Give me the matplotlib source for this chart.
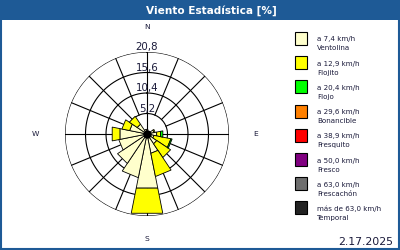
import numpy as np
import matplotlib.pyplot as plt
from matplotlib.patches import Rectangle

W, H = 400, 250

# frecuencia (%) por rumbo y clase de velocidad
dirs = ['N', 'NNE', 'NE', 'ENE', 'E', 'ESE', 'SE', 'SSE',
        'S', 'SSW', 'SW', 'WSW', 'W', 'WNW', 'NW', 'NNW']
ventolina  = [1.2, 0.8, 0.8, 1.8, 2.5, 1.8, 3.0, 5.0, 14.0, 11.3, 9.0, 7.3, 7.0, 4.5, 3.0, 1.2]
flojito    = [0.0, 0.0, 0.0, 0.3, 1.0, 4.4, 4.2, 6.0, 6.5, 0.0, 0.0, 0.0, 2.0, 2.0, 2.4, 0.0]
flojo      = [0.0, 0.0, 0.0, 0.0, 0.6, 0.3, 0.0, 0.0, 0.0, 0.0, 0.0, 0.0, 0.0, 0.0, 0.0, 0.0]
bonancible = [0.0] * 16
fresquito  = [0.0] * 16
fresco     = [0.0] * 16
frescachon = [0.0] * 16
temporal   = [0.0] * 16
series = [ventolina, flojito, flojo, bonancible, fresquito, fresco, frescachon, temporal]

speeds = ['a 7,4 km/h', 'a 12,9 km/h', 'a 20,4 km/h', 'a 29,6 km/h',
          'a 38,9 km/h', 'a 50,0 km/h', 'a 63,0 km/h', 'más de 63,0 km/h']
names = ['Ventolina', 'Flojito', 'Flojo', 'Bonancible',
         'Fresquito', 'Fresco', 'Frescachón', 'Temporal']
colors = ['#ffffcc', '#ffff00', '#00ff00', '#ff8000',
          '#ff0000', '#800080', '#6e6e6e', '#222222']

rings = [5.2, 10.4, 15.6, 20.8]
ring_labels = ['5,2', '10,4', '15,6', '20,8']
compass = ['N', 'E', 'S', 'W']

blue = '#1e5a96'
txt = '#1a1a3a'

fig = plt.figure(figsize=(W / 100, H / 100), dpi=100)
fig.patch.set_facecolor('white')

# marco y banda del titulo
fig.add_artist(Rectangle((0, 1 - 20 / H), 1, 20 / H, transform=fig.transFigure,
                         color=blue, lw=0))
fig.add_artist(Rectangle((0.5 / W, 1 / H), 1 - 1.5 / W, 1 - 1 / H,
                         transform=fig.transFigure, fill=False, ec=blue, lw=1.5))
fig.text(211 / W, 1 - 10.5 / H, 'Viento Estadística [%]', color='white',
         fontsize=7.6, fontweight='bold', ha='center', va='center')

# rosa de vientos
cx, cy, R = 147, 134, 82
ax = fig.add_axes([(cx - R) / W, (H - cy - R) / H, 2 * R / W, 2 * R / H],
                  projection='polar')
ax.set_theta_zero_location('N')
ax.set_theta_direction(-1)
ax.set_ylim(0, rings[-1])
ax.set_axis_off()

n = len(dirs)
theta = np.arange(n) * 2 * np.pi / n
width = 2 * np.pi / n

t = np.linspace(0, 2 * np.pi, 361)
for r in rings:
    ax.plot(t, np.full_like(t, r), color='black', lw=0.8, zorder=1)
for i, th in enumerate(theta):
    r0 = 0 if i % 4 == 0 else rings[0]
    ax.plot([th, th], [r0, rings[-1]], color='black', lw=0.8, zorder=1)

bottom = np.zeros(n)
for vals, col in zip(series, colors):
    vals = np.asarray(vals)
    for th, b, v in zip(theta, bottom, vals):
        if v <= 0:
            continue
        a0, a1 = th - width / 2, th + width / 2
        ax.fill([a0, a0, a1, a1], [b, b + v, b + v, b], facecolor=col,
                edgecolor='black', lw=0.6, zorder=2)
    bottom = bottom + vals
ax.plot([0], [0], 'o', color='black', ms=5, zorder=3)

for r, lab in zip(rings, ring_labels):
    ax.annotate(lab, (0, r), xytext=(0, 1.2), textcoords='offset points',
                ha='center', va='baseline', fontsize=7.4, color=txt, zorder=4)

for k, lab in enumerate(compass):
    rr = [27.1, 27.6, 26.6, 28.4][k]
    ax.text(k * np.pi / 2, rr, lab, ha='center', va='center', fontsize=5.4,
            color=txt, clip_on=False)

# leyenda
for i, (sp, nm, col) in enumerate(zip(speeds, names, colors)):
    top = 32 + i * 24.2
    fig.add_artist(Rectangle((295 / W, 1 - (top + 13) / H), 12 / W, 13 / H,
                             transform=fig.transFigure, facecolor=col,
                             edgecolor='black', lw=0.8))
    fig.text(317 / W, 1 - (top + 9.5) / H, sp, fontsize=5.1, color=txt,
             va='baseline')
    fig.text(317 / W, 1 - (top + 18.5) / H, nm, fontsize=5.1, color=txt,
             va='baseline')

fig.text(393 / W, 1 - 245 / H, '2.17.2025', fontsize=7.8, color=txt,
         ha='right', va='baseline')

fig.savefig('out.png', dpi=100)
